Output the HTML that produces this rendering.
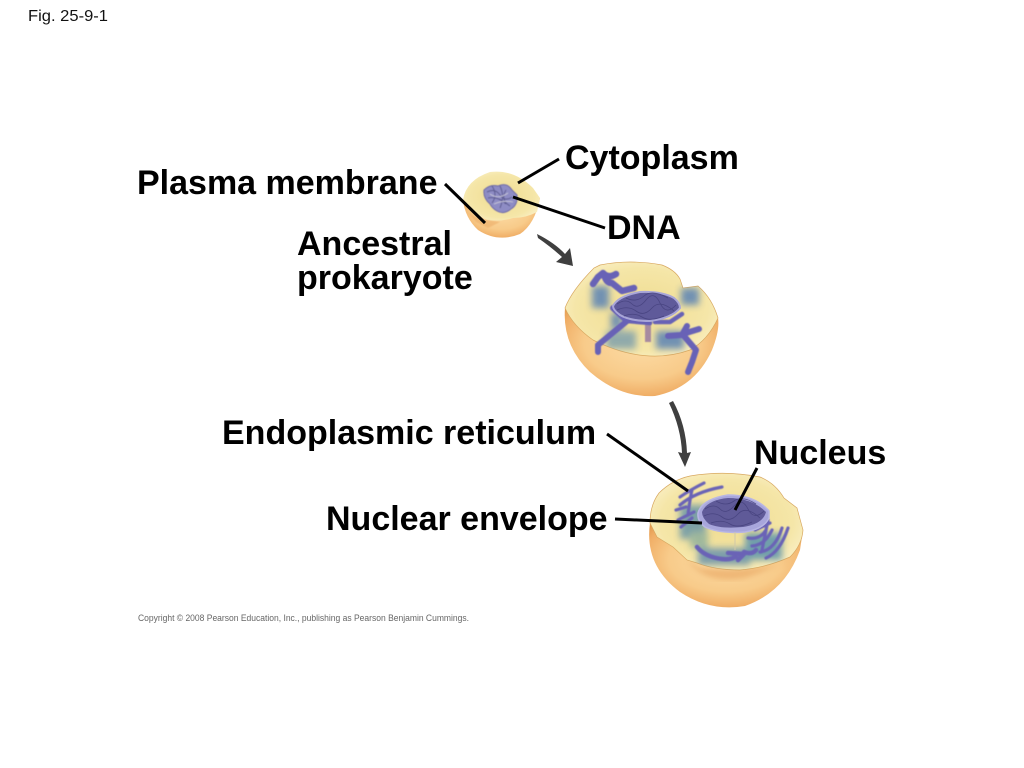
<!DOCTYPE html>
<html><head><meta charset="utf-8"><style>
html,body{margin:0;padding:0;background:#fff}
svg{display:block}
text{font-family:"Liberation Sans",Arial,sans-serif}
.l{font-weight:bold;font-size:34px;fill:#000}
</style></head><body>
<svg width="1024" height="768" viewBox="0 0 1024 768" xmlns="http://www.w3.org/2000/svg">
<defs>
<radialGradient id="o" cx="0.5" cy="0.45" r="0.62"><stop offset="0" stop-color="#fcdca6"/><stop offset="0.6" stop-color="#f8cb8a"/><stop offset="0.88" stop-color="#f0ae66"/><stop offset="1" stop-color="#e29a4e"/></radialGradient>
<radialGradient id="y" cx="0.5" cy="0.5" r="0.62"><stop offset="0" stop-color="#efdc90"/><stop offset="0.7" stop-color="#f5e6a8"/><stop offset="1" stop-color="#fbf2ce"/></radialGradient>
<filter id="b3"><feGaussianBlur stdDeviation="3"/></filter>
<filter id="b4"><feGaussianBlur stdDeviation="3.5"/></filter>
<filter id="s"><feGaussianBlur stdDeviation="0.5"/></filter>
<clipPath id="c2"><path d="M565,308 Q572,290 594,268 L600,265 Q630,259 662,265 Q675,270 680,279 L683,288 L698,286 Q712,298 718,318 Q708,340 690,350 Q645,366 593,340 Q573,326 565,308Z"/></clipPath>
<clipPath id="c3"><path d="M650,523 Q650,505 659,493 Q672,480 690,476 Q725,470 760,477 Q775,483 784,498 L797,508 L803,530 Q802,545 790,557 Q765,568 740,570 Q715,570 697,563 L687,560 L673,547 L657,537Z"/></clipPath>
</defs>

<text x="28" y="21" font-size="16" fill="#111" textLength="80" lengthAdjust="spacingAndGlyphs">Fig. 25-9-1</text>

<!-- Cell 1 -->
<path d="M463,200 Q465,218 478,230 Q498,243 520,234 Q535,224 540,198 L500,190Z" fill="url(#o)"/>
<path d="M463,200 Q466,180 490,172 Q514,169 533,188 L540,198 L537,212 Q526,218 513,218 Q500,222 487,220 Q470,212 463,200Z" fill="url(#y)"/>
<path d="M468,212 Q478,220 487,220 L500,222 L488,228 L476,222Z" fill="#eaa862" opacity=".5" filter="url(#s)"/>
<g filter="url(#s)" fill="none">
<path d="M484,190 Q490,184 498,186 Q507,182 512,190 L517,195 Q518,205 511,209 Q504,215 497,211 Q492,208 490,204 Q483,198 484,190Z" fill="#8e8cc4" stroke="#6e6aa8" stroke-width="1"/>
<path d="M487,192 Q495,188 500,195 T512,197 M492,186 Q498,195 492,203 M500,186 Q505,196 500,208 M506,190 Q500,200 510,206 M488,198 Q498,196 506,204" stroke="#5b5a90" stroke-width="1"/>
<path d="M490,194 Q498,200 508,193 M494,204 Q503,200 513,202" stroke="#c9c8d8" stroke-width=".8"/>
</g>

<!-- Cell 2 -->
<path d="M565,308 Q562,345 590,372 Q620,398 655,396 Q695,388 712,350 Q720,330 718,318 L640,300Z" fill="url(#o)"/>
<path d="M565,308 Q572,290 594,268 L600,265 Q630,259 662,265 Q675,270 680,279 L683,288 L698,286 Q712,298 718,318 Q708,340 690,350 Q645,366 593,340 Q573,326 565,308Z" fill="url(#y)" stroke="#d8a860" stroke-width=".7"/>
<g clip-path="url(#c2)">
<g filter="url(#b4)" opacity=".9" fill="#6488b4">
<rect x="592" y="286" width="17" height="22"/>
<rect x="681" y="288" width="18" height="17"/>
<rect x="606" y="331" width="30" height="18" fill="#86a4ac"/>
<rect x="656" y="331" width="28" height="18"/>
<rect x="611" y="313" width="11" height="16"/>
</g>
<rect x="645" y="322" width="6" height="20" fill="#a78ba0" filter="url(#s)"/>
</g>
<g fill="none" stroke="#6862b6" stroke-linecap="round" stroke-linejoin="round" filter="url(#s)">
<path d="M593,284 L598,277 L603,273 Q608,279 616,274 M604,274 Q606,283 612,283 L622,291 L634,288" stroke-width="6.5"/>
<path d="M627,321 L598,345 L598,352 M627,321 L613,308" stroke-width="6"/>
<path d="M627,321 L650,323 M655,322 L670,322 L682,314" stroke-width="4.5"/>
<path d="M668,336 L682,335 L687,326 M686,333 L699,329 M684,336 L696,350 L692,362 L688,372" stroke-width="6"/>
</g>
<path d="M613,306 Q618,296 640,292 Q662,291 674,298 Q680,303 680,308 Q672,318 650,321 Q630,321 620,315 Q613,310 613,306Z" fill="#5f5a9a" stroke="#a9a6d8" stroke-width="2"/>
<g fill="none" stroke="#44407c" stroke-width=".8" opacity=".8">
<path d="M617,304 Q626,298 632,304 T646,300 T660,303 T676,305 M617,310 Q628,305 636,311 T652,308 T674,311 M624,316 Q634,312 642,317 T664,316 M626,298 Q636,303 644,296 T668,298"/>
</g>

<!-- Cell 3 -->
<path d="M650,523 Q644,565 680,592 Q710,612 745,606 Q785,592 800,550 L803,530 L720,520Z" fill="url(#o)"/>
<path d="M687,560 Q705,585 745,578 Q770,570 790,557 L785,562 Q750,572 700,568Z" fill="#e39a52" opacity=".5" filter="url(#b3)"/>
<path d="M650,523 Q650,505 659,493 Q672,480 690,476 Q725,470 760,477 Q775,483 784,498 L797,508 L803,530 Q802,545 790,557 Q765,568 740,570 Q715,570 697,563 L687,560 L673,547 L657,537Z" fill="url(#y)" stroke="#d8a860" stroke-width=".7"/>
<g clip-path="url(#c3)">
<g filter="url(#b4)" opacity=".9">
<rect x="680" y="505" width="26" height="34" fill="#6f9aa8"/>
<rect x="698" y="548" width="52" height="17" fill="#7096ac"/>
<rect x="745" y="533" width="37" height="27" fill="#6497ac"/>
<rect x="690" y="532" width="18" height="16" fill="#96b49c"/>
</g>
</g>
<g fill="none" stroke="#6a64b6" stroke-linecap="round" stroke-linejoin="round" filter="url(#s)">
<path d="M680,497 Q690,490 704,483 M680,505 Q695,492 722,487 M688,515 Q690,498 692,490 M676,510 L686,507 M678,520 L694,512 M681,527 L692,518" stroke-width="3.2"/>
<path d="M697,547 Q705,557 722,559 Q732,560 736,556 M728,553 L744,554 L738,560 M744,552 Q752,555 756,550" stroke-width="4.5"/>
<path d="M748,538 Q760,540 766,530 M752,546 Q765,545 772,530 M760,552 Q775,550 782,528 M766,558 Q780,552 788,528 M768,520 L762,550 M755,530 L770,523" stroke-width="3.2"/>
</g>
<path d="M698,513 Q702,499 728,495 Q755,495 769,511 L769,518 Q764,529 745,532 Q720,534 705,527 Q697,521 698,513Z" fill="#a8a6dc" stroke="#b8b6e4" stroke-width="1.5"/>
<path d="M702,512 Q707,500 728,498 Q752,498 766,512 Q763,524 743,527 Q720,529 709,524 Q702,518 702,512Z" fill="#5f5a98"/>
<g fill="none" stroke="#44407c" stroke-width=".8" opacity=".8">
<path d="M705,509 Q714,503 720,509 T734,506 T748,509 T764,511 M704,516 Q714,511 722,517 T738,514 T760,518 M711,523 Q722,519 730,524 T752,522 M716,501 Q726,507 734,501 T756,504"/>
</g>
<path d="M735,532 L735,550" stroke="#d0c8a8" stroke-width="1"/>

<!-- Arrows -->
<g fill="#3f3f3f">
<path d="M537,234 Q555,243 565,254 L570,248 L573,266 L556,262 L562,257 Q551,247 538,238Z"/>
<path d="M669,403 L673,401 Q686,425 687,453 L691,452 L685,467 L678,452 L682,453 Q681,428 669,403Z"/>
</g>

<!-- Leaders -->
<g stroke="#000" stroke-width="3" fill="none">
<line x1="518" y1="183" x2="559" y2="159"/>
<line x1="513" y1="197" x2="605" y2="228"/>
<line x1="445" y1="184" x2="485" y2="223"/>
<line x1="607" y1="434" x2="688" y2="491"/>
<line x1="615" y1="519" x2="702" y2="523"/>
<line x1="757" y1="468" x2="735" y2="510"/>
</g>

<!-- Labels -->
<text class="l" x="565" y="169">Cytoplasm</text>
<text class="l" x="137" y="194">Plasma membrane</text>
<text class="l" x="607" y="239">DNA</text>
<text class="l" x="297" y="255">Ancestral</text>
<text class="l" x="297" y="289">prokaryote</text>
<text class="l" x="222" y="444">Endoplasmic reticulum</text>
<text class="l" x="754" y="464">Nucleus</text>
<text class="l" x="326" y="530">Nuclear envelope</text>
<text x="138" y="621" font-size="9" fill="#666" textLength="331" lengthAdjust="spacingAndGlyphs">Copyright © 2008 Pearson Education, Inc., publishing as Pearson Benjamin Cummings.</text>
</svg>
</body></html>
